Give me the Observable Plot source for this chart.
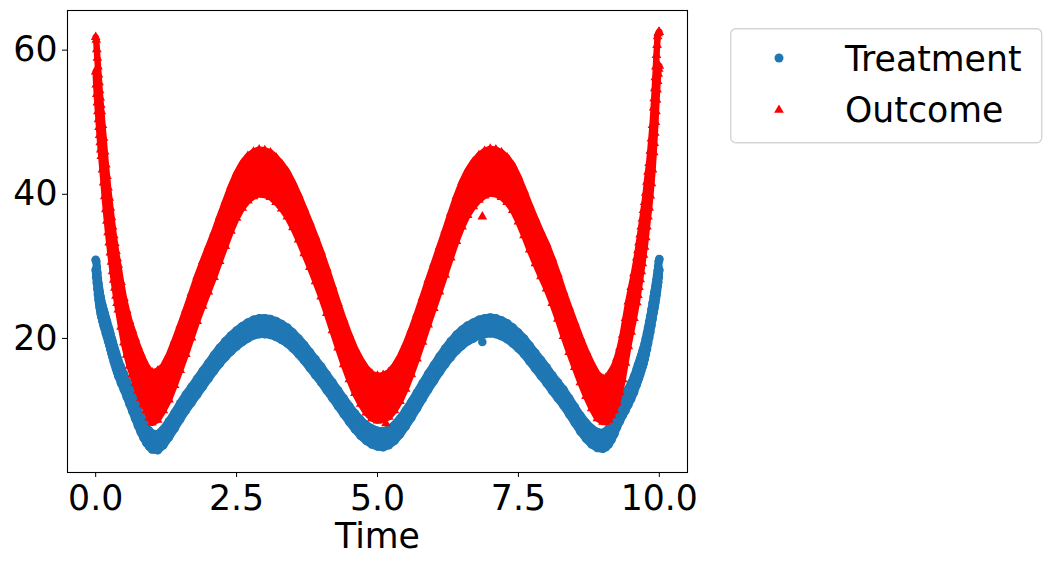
<!DOCTYPE html>
<html>
<head>
<meta charset="utf-8">
<script src="https://cdn.jsdelivr.net/npm/d3@7"></script>
<script src="https://cdn.jsdelivr.net/npm/@observablehq/plot@0.6"></script>
<style>
  html, body { margin: 0; padding: 0; background: #fff; }
  #wrap { position: relative; width: 1052px; height: 565px; font-family: "DejaVu Sans", sans-serif; }
  #legend { position: absolute; left: 730px; top: 28px; }
</style>
</head>
<body>
<div id="wrap"><div id="chart"></div><div id="legend"></div></div>
<script>
// ---- data ----
const seriesNames = ["Treatment", "Outcome"];
const xTicks = [0, 2.5, 5, 7.5, 10];
const yTicks = [20, 40, 60];

const times = [
  0, 0.01, 0.02, 0.03, 0.04, 0.05, 0.06, 0.07, 0.08, 0.09, 0.1,
  0.12, 0.14, 0.16, 0.18, 0.2, 0.22, 0.24, 0.26, 0.28, 0.3, 0.32, 0.34, 0.36, 0.38, 0.4,
  0.45, 0.5, 0.55, 0.6, 0.65, 0.7, 0.75, 0.8, 0.85, 0.9, 0.95, 1.0,
  1.1, 1.2, 1.3, 1.4, 1.5, 1.6, 1.7, 1.8, 1.9, 2.0,
  2.1, 2.2, 2.3, 2.4, 2.5, 2.6, 2.7, 2.8, 2.9, 3.0,
  3.1, 3.2, 3.3, 3.4, 3.5, 3.6, 3.7, 3.8, 3.9, 4.0,
  4.1, 4.2, 4.3, 4.4, 4.5, 4.6, 4.7, 4.8, 4.9, 5.0,
  5.1, 5.2, 5.3, 5.4, 5.5, 5.6, 5.7, 5.8, 5.9, 6.0,
  6.1, 6.2, 6.3, 6.4, 6.5, 6.6, 6.7, 6.8, 6.9, 7.0,
  7.1, 7.2, 7.3, 7.4, 7.5, 7.6, 7.7, 7.8, 7.9, 8.0,
  8.1, 8.2, 8.3, 8.4, 8.5, 8.6, 8.7, 8.8, 8.9, 9.0,
  9.05, 9.1, 9.15, 9.2, 9.25, 9.3, 9.35, 9.4, 9.45, 9.5, 9.55, 9.6,
  9.62, 9.64, 9.66, 9.68, 9.7, 9.72, 9.74, 9.76, 9.78, 9.8, 9.82, 9.84, 9.86, 9.88, 9.9,
  9.91, 9.92, 9.93, 9.94, 9.95, 9.96, 9.97, 9.98, 9.99, 10.0
];

// lower / upper edge of the Treatment scatter band
const treatmentLow = [
  29.5, 28.5, 27.7, 26.9, 26.1, 25.4, 24.8, 24.3, 23.8, 23.4, 23.0,
  22.4, 21.8, 21.3, 20.7, 20.2, 19.6, 19.1, 18.5, 17.9, 17.4, 16.8, 16.3, 15.8, 15.3, 14.8,
  13.8, 12.9, 11.9, 10.9, 9.9, 8.9, 7.9, 7.0, 6.2, 5.5, 5.0, 4.6,
  4.5, 5.2, 6.3, 7.5, 8.8, 10.0, 11.1, 12.2, 13.3, 14.4,
  15.5, 16.5, 17.4, 18.2, 18.9, 19.5, 20.0, 20.4, 20.6, 20.6,
  20.5, 20.2, 19.8, 19.3, 18.6, 17.8, 16.9, 15.9, 14.9, 13.9,
  12.8, 11.7, 10.6, 9.5, 8.4, 7.4, 6.5, 5.8, 5.3, 5.0,
  4.9, 5.2, 5.8, 6.7, 7.8, 9.0, 10.3, 11.6, 12.9, 14.1,
  15.3, 16.4, 17.4, 18.3, 19.0, 19.6, 20.0, 20.4, 20.6, 20.7,
  20.6, 20.3, 19.9, 19.3, 18.6, 17.8, 16.8, 15.8, 14.8, 13.8,
  12.7, 11.7, 10.7, 9.5, 8.3, 7.1, 6.1, 5.3, 4.8, 4.7,
  4.9, 5.3, 5.9, 6.7, 7.7, 8.5, 9.3, 10.0, 10.8, 11.6, 12.5, 13.6,
  14.1, 14.5, 15.0, 15.5, 16.0, 16.5, 17.1, 17.8, 18.5, 19.3, 20.1, 20.9, 21.8, 22.7, 23.6,
  24.1, 24.5, 25.0, 25.5, 26.0, 26.6, 27.2, 27.8, 28.5, 29.5
];
const treatmentHigh = [
  30.9, 30.7, 29.9, 29.1, 28.3, 27.6, 27.0, 26.5, 26.0, 25.6, 25.2,
  24.6, 24.0, 23.5, 22.9, 22.4, 21.8, 21.3, 20.7, 20.1, 19.6, 19.0, 18.5, 18.0, 17.5, 17.0,
  16.0, 15.1, 14.1, 13.1, 12.1, 11.1, 10.1, 9.2, 8.4, 7.7, 7.2, 6.8,
  6.7, 7.4, 8.5, 9.7, 11.0, 12.2, 13.3, 14.4, 15.5, 16.6,
  17.7, 18.7, 19.6, 20.4, 21.1, 21.7, 22.2, 22.6, 22.8, 22.8,
  22.7, 22.4, 22.0, 21.5, 20.8, 20.0, 19.1, 18.1, 17.1, 16.1,
  15.0, 13.9, 12.8, 11.7, 10.6, 9.6, 8.7, 8.0, 7.5, 7.2,
  7.1, 7.4, 8.0, 8.9, 10.0, 11.2, 12.5, 13.8, 15.1, 16.3,
  17.5, 18.6, 19.6, 20.5, 21.2, 21.8, 22.2, 22.6, 22.8, 22.9,
  22.8, 22.5, 22.1, 21.5, 20.8, 20.0, 19.0, 18.0, 17.0, 16.0,
  14.9, 13.9, 12.9, 11.7, 10.5, 9.3, 8.3, 7.5, 7.0, 6.9,
  7.1, 7.5, 8.1, 8.9, 9.9, 10.7, 11.5, 12.2, 13.0, 13.8, 14.7, 15.8,
  16.3, 16.7, 17.2, 17.7, 18.2, 18.7, 19.3, 20.0, 20.7, 21.5, 22.3, 23.1, 24.0, 24.9, 25.8,
  26.3, 26.7, 27.2, 27.7, 28.2, 28.8, 29.4, 30.0, 30.7, 31.0
];

// lower / upper edge of the Outcome scatter band
const outcomeLow = [
  57.0, 55.2, 53.9, 52.7, 51.5, 50.4, 49.3, 48.2, 47.2, 46.2, 45.3,
  43.4, 41.6, 39.7, 37.9, 36.3, 34.7, 33.3, 31.9, 30.6, 29.3, 28.1, 27.0, 25.9, 24.9, 24.0,
  21.6, 19.4, 17.7, 16.2, 15.0, 13.8, 12.7, 11.7, 10.8, 10.0, 9.0, 8.3,
  8.7, 10.0, 11.5, 13.5, 15.6, 17.8, 20.1, 22.4, 24.5, 26.5,
  28.5, 30.7, 32.8, 34.9, 36.7, 38.1, 39.1, 39.7, 40.0, 39.9,
  39.6, 38.9, 38.0, 36.9, 35.4, 33.7, 31.8, 29.9, 27.9, 25.8,
  23.5, 21.1, 18.7, 16.4, 14.3, 12.4, 10.9, 9.7, 8.9, 8.6,
  8.7, 9.1, 10.0, 11.3, 13.0, 15.0, 17.2, 19.5, 21.9, 24.2,
  26.5, 28.8, 31.2, 33.5, 35.5, 37.1, 38.3, 39.2, 39.8, 40.1,
  40.0, 39.6, 38.9, 37.8, 36.2, 34.3, 32.3, 30.4, 28.6, 26.9,
  24.9, 22.7, 20.3, 18.1, 16.0, 13.9, 12.0, 10.3, 8.9, 8.4,
  8.4, 8.7, 9.3, 10.0, 11.1, 12.5, 14.3, 16.6, 18.9, 20.9, 22.8, 25.0,
  26.0, 27.1, 28.2, 29.3, 30.4, 31.6, 32.7, 34.0, 35.5, 36.9, 38.1, 39.8, 41.5, 43.4, 45.8,
  47.1, 48.5, 50.0, 51.5, 53.1, 54.5, 55.7, 56.7, 57.4, 57.8
];
const outcomeHigh = [
  61.8, 61.4, 60.1, 58.9, 57.7, 56.6, 55.5, 54.4, 53.4, 52.4, 51.5,
  49.6, 47.8, 45.9, 44.1, 42.5, 40.9, 39.5, 38.1, 36.8, 35.5, 34.3, 33.2, 32.1, 31.1, 30.2,
  27.8, 25.6, 23.9, 22.4, 21.2, 20.0, 18.9, 17.9, 17.0, 16.2, 15.6, 15.3,
  15.5, 16.2, 17.7, 19.7, 21.8, 24.0, 26.3, 28.6, 30.7, 32.7,
  34.7, 36.9, 39.0, 41.1, 42.9, 44.3, 45.3, 45.9, 46.2, 46.1,
  45.8, 45.1, 44.2, 43.1, 41.6, 39.9, 38.0, 36.1, 34.1, 32.0,
  29.7, 27.3, 24.9, 22.6, 20.5, 18.6, 17.1, 15.9, 15.1, 14.8,
  14.9, 15.3, 16.2, 17.5, 19.2, 21.2, 23.4, 25.7, 28.1, 30.4,
  32.7, 35.0, 37.4, 39.7, 41.7, 43.3, 44.5, 45.4, 46.0, 46.3,
  46.2, 45.8, 45.1, 44.0, 42.4, 40.5, 38.5, 36.6, 34.8, 33.1,
  31.1, 28.9, 26.5, 24.3, 22.2, 20.1, 18.2, 16.5, 15.1, 14.4,
  14.5, 14.9, 15.5, 16.2, 17.3, 18.7, 20.5, 22.8, 25.1, 27.1, 29.0, 31.2,
  32.2, 33.3, 34.4, 35.5, 36.6, 37.8, 38.9, 40.2, 41.7, 43.1, 44.3, 46.0, 47.7, 49.6, 52.0,
  53.3, 54.7, 56.2, 57.7, 59.3, 60.7, 61.9, 62.3, 62.5, 62.5
];

// isolated points lying off the bands
const treatmentExtraTime = [6.86];
const treatmentExtra = [19.5];
const outcomeExtraTime = [5.15, 6.86];
const outcomeExtra = [8.2, 36.9];

// ---- styling ----
const BLUE = "#1f77b4";
const RED = "#ff0000";
const FONT = "DejaVu Sans";
const FS = 34.7;

const rows = times.map((t, i) => ({
  t, tLo: treatmentLow[i], tHi: treatmentHigh[i], oLo: outcomeLow[i], oHi: outcomeHigh[i]
}));
const tExtra = treatmentExtraTime.map((t, i) => ({t, v: treatmentExtra[i]}));
const oExtra = outcomeExtraTime.map((t, i) => ({t, v: outcomeExtra[i]}));

const edgeLine = (y, color, w) => Plot.line(rows, {x: "t", y, stroke: color, strokeWidth: w, strokeLinejoin: "round", strokeLinecap: "round"});

const chart = Plot.plot({
  width: 1052,
  height: 565,
  marginLeft: 67,
  marginRight: 365,
  marginTop: 10,
  marginBottom: 93,
  style: {fontFamily: FONT, fontSize: FS + "px", color: "black", background: "white", overflow: "visible"},
  x: {domain: [-0.5, 10.5]},
  y: {domain: [1.4, 65.5]},
  marks: [
    // Treatment
    Plot.areaY(rows, {x: "t", y1: "tLo", y2: "tHi", fill: BLUE}),
    edgeLine("tLo", BLUE, 8), edgeLine("tHi", BLUE, 8),
    Plot.dot(rows, {x: "t", y: "tLo", r: 4.3, fill: BLUE}),
    Plot.dot(rows, {x: "t", y: "tHi", r: 4.3, fill: BLUE}),
    Plot.dot(tExtra, {x: "t", y: "v", r: 4.3, fill: BLUE}),
    // Outcome
    Plot.areaY(rows, {x: "t", y1: "oLo", y2: "oHi", fill: RED}),
    edgeLine("oLo", RED, 6.5), edgeLine("oHi", RED, 6.5),
    Plot.dot(rows, {x: "t", y: "oLo", r: 3.6, symbol: "triangle", fill: RED}),
    Plot.dot(rows, {x: "t", y: "oHi", r: 3.6, symbol: "triangle", fill: RED}),
    Plot.dot(oExtra, {x: "t", y: "v", r: 3.6, symbol: "triangle", fill: RED}),
    // axes
    Plot.axisX(xTicks, {tickSize: 5, tickPadding: 8, tickFormat: d => d.toFixed(1), fontSize: FS, label: null}),
    Plot.axisY(yTicks, {tickSize: 5, tickPadding: 5, fontSize: FS, label: null}),
    Plot.text(["Time"], {frameAnchor: "bottom", lineAnchor: "top", dy: 51, fontSize: FS, fill: "black"}),
    Plot.frame({stroke: "black", strokeWidth: 1.1})
  ]
});
document.getElementById("chart").appendChild(chart);

// ---- legend ----
const lg = d3.select("#legend").append("svg").attr("width", 313).attr("height", 116);
lg.append("rect").attr("x", 0.7).attr("y", 0.7).attr("width", 311).attr("height", 114)
  .attr("rx", 5).attr("fill", "white").attr("stroke", "#d5d5d5").attr("stroke-width", 1.4);
const items = [
  {name: seriesNames[0], color: BLUE, sym: d3.symbolCircle, area: Math.PI * 4.5 * 4.5, cy: 30, ty: 43},
  {name: seriesNames[1], color: RED, sym: d3.symbolTriangle, area: Math.PI * 3.6 * 3.6, cy: 82, ty: 94}
];
items.forEach(it => {
  lg.append("path").attr("d", d3.symbol(it.sym, it.area)()).attr("transform", `translate(49,${it.cy})`).attr("fill", it.color);
  lg.append("text").attr("x", 115).attr("y", it.ty).attr("font-family", FONT).attr("font-size", FS).attr("fill", "black").text(it.name);
});
</script>
</body>
</html>
